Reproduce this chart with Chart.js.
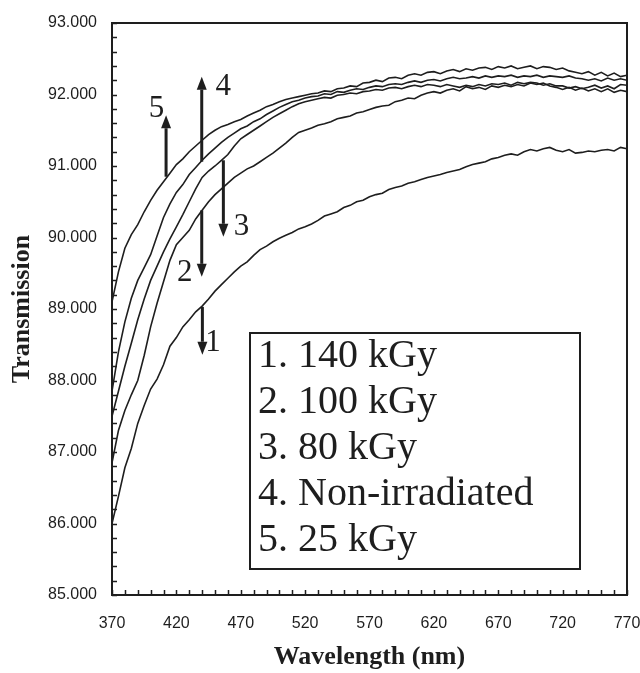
<!DOCTYPE html>
<html>
<head>
<meta charset="utf-8">
<script src="https://cdn.jsdelivr.net/npm/chart.js@4.4.1/dist/chart.umd.min.js"></script>
<style>
  html, body { margin: 0; padding: 0; background: #fff; }
  #wrap { width: 640px; height: 673px; }
</style>
</head>
<body>
<div id="wrap"><canvas id="spectra" width="640" height="673"></canvas></div>
<script>
// wavelength (nm), every 5 nm
const wavelengths = [
  370, 375, 380, 385, 390, 395, 400, 405, 410, 415, 420, 425, 430, 435, 440, 445, 450, 455, 460, 465,
  470, 475, 480, 485, 490, 495, 500, 505, 510, 515, 520, 525, 530, 535, 540, 545, 550, 555, 560, 565,
  570, 575, 580, 585, 590, 595, 600, 605, 610, 615, 620, 625, 630, 635, 640, 645, 650, 655, 660, 665,
  670, 675, 680, 685, 690, 695, 700, 705, 710, 715, 720, 725, 730, 735, 740, 745, 750, 755, 760, 765, 770
];

// transmission
const t140 = [
  86.00, 86.38, 86.78, 87.05, 87.40, 87.65, 87.88, 88.02, 88.22, 88.48, 88.60, 88.75, 88.85, 88.96, 89.04, 89.14, 89.25, 89.34, 89.43, 89.52,
  89.60, 89.66, 89.75, 89.83, 89.88, 89.94, 89.99, 90.03, 90.07, 90.12, 90.15, 90.19, 90.24, 90.30, 90.33, 90.36, 90.42, 90.45, 90.50, 90.52,
  90.57, 90.60, 90.62, 90.67, 90.70, 90.72, 90.76, 90.78, 90.81, 90.84, 90.86, 90.88, 90.91, 90.93, 90.95, 90.99, 91.02, 91.04, 91.06, 91.10,
  91.12, 91.15, 91.17, 91.15, 91.20, 91.23, 91.21, 91.24, 91.26, 91.22, 91.20, 91.23, 91.18, 91.19, 91.21, 91.20, 91.22, 91.23, 91.21, 91.26, 91.24
];
const t100 = [
  86.85, 87.30, 87.58, 87.80, 88.00, 88.35, 88.75, 89.08, 89.38, 89.68, 89.90, 90.00, 90.10, 90.26, 90.38, 90.50, 90.60, 90.68, 90.76, 90.84,
  90.90, 90.96, 91.00, 91.06, 91.12, 91.18, 91.25, 91.32, 91.40, 91.47, 91.50, 91.53, 91.57, 91.59, 91.62, 91.66, 91.68, 91.70, 91.74, 91.76,
  91.79, 91.82, 91.84, 91.85, 91.90, 91.92, 91.95, 91.94, 91.99, 92.02, 92.04, 92.02, 92.06, 92.08, 92.05, 92.11, 92.08, 92.10, 92.07, 92.12,
  92.10, 92.13, 92.11, 92.14, 92.12, 92.16, 92.14, 92.16, 92.12, 92.10, 92.07, 92.10, 92.06, 92.09, 92.05, 92.08, 92.04, 92.08, 92.03, 92.06, 92.04
];
const t80 = [
  87.50, 87.85, 88.20, 88.52, 88.85, 89.14, 89.40, 89.60, 89.80, 89.98, 90.15, 90.32, 90.50, 90.68, 90.84, 90.93, 91.00, 91.08, 91.16, 91.28,
  91.38, 91.44, 91.50, 91.56, 91.62, 91.68, 91.73, 91.78, 91.83, 91.87, 91.90, 91.92, 91.94, 91.96, 91.95, 91.99, 92.00, 92.02, 92.01, 92.04,
  92.05, 92.07, 92.06, 92.09, 92.10, 92.08, 92.11, 92.13, 92.11, 92.14, 92.13, 92.11, 92.14, 92.12, 92.10, 92.13, 92.11, 92.14, 92.12, 92.15,
  92.14, 92.16, 92.13, 92.17, 92.15, 92.17, 92.16, 92.13, 92.15, 92.12, 92.12, 92.09, 92.11, 92.08, 92.10, 92.13, 92.09, 92.12, 92.08, 92.14, 92.13
];
const tNon = [
  87.85, 88.40, 88.82, 89.15, 89.40, 89.58, 89.76, 90.02, 90.28, 90.47, 90.63, 90.74, 90.88, 90.98, 91.08, 91.17, 91.25, 91.33, 91.40, 91.46,
  91.52, 91.56, 91.62, 91.66, 91.72, 91.77, 91.82, 91.86, 91.90, 91.92, 91.95, 91.97, 91.98, 92.01, 92.00, 92.04, 92.03, 92.06, 92.08, 92.07,
  92.10, 92.12, 92.11, 92.14, 92.15, 92.14, 92.17, 92.19, 92.17, 92.20, 92.21, 92.19, 92.22, 92.24, 92.22, 92.23, 92.25, 92.23, 92.26, 92.24,
  92.26, 92.25, 92.27, 92.24, 92.26, 92.25, 92.27, 92.24, 92.26, 92.25, 92.24, 92.26, 92.23, 92.22, 92.20, 92.22, 92.19, 92.23, 92.20, 92.22, 92.20
];
const t25 = [
  89.10, 89.52, 89.85, 90.04, 90.18, 90.36, 90.52, 90.66, 90.78, 90.90, 91.02, 91.10, 91.20, 91.28, 91.36, 91.44, 91.50, 91.55, 91.58, 91.62,
  91.65, 91.70, 91.74, 91.78, 91.83, 91.86, 91.90, 91.93, 91.95, 91.97, 91.99, 92.01, 92.02, 92.05, 92.04, 92.08, 92.09, 92.12, 92.11, 92.16,
  92.17, 92.20, 92.18, 92.23, 92.24, 92.22, 92.27, 92.29, 92.27, 92.31, 92.32, 92.29, 92.33, 92.35, 92.32, 92.36, 92.34, 92.37, 92.38, 92.35,
  92.39, 92.37, 92.40, 92.36, 92.38, 92.40, 92.36, 92.39, 92.38, 92.35, 92.37, 92.33, 92.31, 92.29, 92.32, 92.27, 92.31, 92.26, 92.30, 92.25, 92.27
];

const seriesNames = ['1. 140 kGy', '2. 100 kGy', '3. 80 kGy', '4. Non-irradiated', '5. 25 kGy'];
const seriesValues = [t140, t100, t80, tNon, t25];

const xTicks = [370, 420, 470, 520, 570, 620, 670, 720, 770];
const yTicks = [85, 86, 87, 88, 89, 90, 91, 92, 93];

// arrows pointing at each curve: wavelength, from value, to value (head), number and where it sits
const arrows = [
  { n: '1', x: 440.2, from: 89.03, to: 88.36, lx: 448.5, ly: 88.52 },
  { n: '2', x: 439.7, from: 90.38, to: 89.45, lx: 426.5, ly: 89.50 },
  { n: '3', x: 456.5, from: 91.08, to: 90.01, lx: 470.5, ly: 90.15 },
  { n: '4', x: 439.7, from: 91.06, to: 92.25, lx: 456.5, ly: 92.11 },
  { n: '5', x: 412.0, from: 90.85, to: 91.71, lx: 404.5, ly: 91.80 }
];

const ink = '#1e1e1e';

const datasets = seriesValues.map((vals, i) => ({
  label: seriesNames[i],
  data: wavelengths.map((w, j) => ({ x: w, y: vals[j] })),
  borderColor: ink,
  borderWidth: 1.6,
  pointRadius: 0,
  tension: 0,
  fill: false
}));

const decorations = {
  id: 'decorations',
  afterDatasetsDraw(chart) {
    const { ctx, chartArea: a, scales: { x, y } } = chart;
    ctx.save();
    ctx.strokeStyle = ink;
    ctx.fillStyle = ink;

    // frame
    ctx.lineWidth = 2;
    ctx.strokeRect(a.left, a.top, a.right - a.left, a.bottom - a.top);

    // inward ticks
    ctx.lineWidth = 1.5;
    ctx.beginPath();
    for (let k = 0; k <= 40; k++) {
      const py = Math.round(y.getPixelForValue(85 + k * 0.2)) + 0.5;
      ctx.moveTo(a.left, py);
      ctx.lineTo(a.left + 5, py);
    }
    for (let k = 0; k <= 40; k++) {
      const px = Math.round(x.getPixelForValue(370 + k * 10)) + 0.5;
      ctx.moveTo(px, a.bottom);
      ctx.lineTo(px, a.bottom - 5);
    }
    ctx.stroke();

    // arrows and numbers
    ctx.font = '31px "Liberation Serif", "Times New Roman", serif';
    ctx.textAlign = 'center';
    ctx.textBaseline = 'middle';
    arrows.forEach(ar => {
      const px = x.getPixelForValue(ar.x);
      const p0 = y.getPixelForValue(ar.from);
      const p1 = y.getPixelForValue(ar.to);
      const dir = p1 > p0 ? 1 : -1;
      const head = 13;
      ctx.lineWidth = 3;
      ctx.beginPath();
      ctx.moveTo(px, p0);
      ctx.lineTo(px, p1 - dir * head);
      ctx.stroke();
      ctx.beginPath();
      ctx.moveTo(px, p1);
      ctx.lineTo(px - 5, p1 - dir * head);
      ctx.lineTo(px + 5, p1 - dir * head);
      ctx.closePath();
      ctx.fill();
      ctx.fillText(ar.n, x.getPixelForValue(ar.lx), y.getPixelForValue(ar.ly));
    });

    // legend box
    const bx = 250, by = 333, bw = 330, bh = 236;
    ctx.lineWidth = 2;
    ctx.strokeRect(bx, by, bw, bh);
    ctx.font = '40px "Liberation Serif", "Times New Roman", serif';
    ctx.textAlign = 'left';
    seriesNames.forEach((name, i) => {
      ctx.fillText(name, bx + 8, by + 23 + i * 46);
    });
    ctx.restore();
  }
};

new Chart(document.getElementById('spectra'), {
  type: 'line',
  data: { datasets },
  plugins: [decorations],
  options: {
    responsive: false,
    animation: false,
    layout: { padding: { left: 0, right: 13, top: 23, bottom: 0 } },
    plugins: {
      legend: { display: false },
      tooltip: { enabled: false }
    },
    scales: {
      x: {
        type: 'linear',
        min: 370,
        max: 770,
        afterBuildTicks: s => { s.ticks = xTicks.map(v => ({ value: v })); },
        afterFit: s => { s.height = 78; s.paddingLeft = 0; s.paddingRight = 0; },
        grid: { display: false, drawTicks: false },
        border: { display: false },
        ticks: {
          autoSkip: false,
          maxRotation: 0,
          padding: 19,
          color: ink,
          font: { family: '"Liberation Sans", Arial, sans-serif', size: 16 }
        },
        title: {
          display: true,
          text: 'Wavelength (nm)',
          color: ink,
          padding: { top: 3, bottom: 0 },
          font: { family: '"Liberation Serif", "Times New Roman", serif', size: 26, weight: 'bold' }
        }
      },
      y: {
        min: 85,
        max: 93,
        afterBuildTicks: s => { s.ticks = yTicks.map(v => ({ value: v })); },
        afterFit: s => { s.width = 112; s.paddingTop = 0; s.paddingBottom = 0; },
        grid: { display: false, drawTicks: false },
        border: { display: false },
        ticks: {
          padding: 15,
          color: ink,
          font: { family: '"Liberation Sans", Arial, sans-serif', size: 16 },
          callback: v => v.toFixed(3)
        },
        title: {
          display: true,
          text: 'Transmission',
          color: ink,
          padding: { top: 7, bottom: 0 },
          font: { family: '"Liberation Serif", "Times New Roman", serif', size: 26, weight: 'bold' }
        }
      }
    }
  }
});
</script>
</body>
</html>
